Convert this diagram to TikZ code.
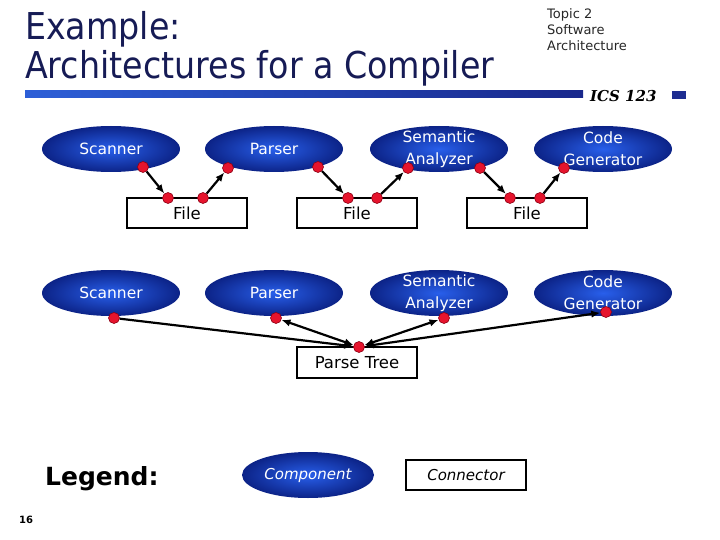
\documentclass[tikz,border=0pt]{standalone}
\usepackage{fontspec}
\setmainfont{DejaVu Sans}
\newfontfamily\serifbi{DejaVu Serif}
\usetikzlibrary{arrows.meta,shapes.geometric}
\definecolor{titleblue}{RGB}{22,27,85}
\definecolor{ellin}{RGB}{40,95,235}
\definecolor{ellout}{RGB}{12,35,135}
\definecolor{dotred}{RGB}{230,20,45}
\definecolor{dotedge}{RGB}{140,0,20}
\definecolor{barL}{RGB}{45,95,215}
\definecolor{barR}{RGB}{25,40,140}
\definecolor{sqblue}{RGB}{30,45,145}
\begin{document}
\begin{tikzpicture}[x=1pt,y=-1pt,
  comp/.style={ellipse, minimum width=138pt, minimum height=46pt, inner sep=0pt, inner color=ellin, outer color=ellout},
  comptext/.style={text=white, font=\fontsize{15.5}{22}\selectfont, align=center, inner sep=0pt},
  connbox/.style={draw=black, line width=1.8pt, minimum width=120pt, minimum height=30pt, inner sep=0pt, font=\fontsize{16.5}{19}\selectfont},
  reddot/.style={circle, fill=dotred, draw=dotedge, line width=0.6pt, minimum size=11pt, inner sep=0pt},
  link/.style={line width=2.2pt, -{Latex[length=9pt,width=7.5pt]}},
  blink/.style={line width=2.2pt, {Latex[length=9pt,width=7.5pt]}-{Latex[length=9pt,width=7.5pt]}},
  titletext/.style={anchor=base west, inner sep=0pt, text=titleblue, font=\fontsize{37}{40}\selectfont},
  toptext/.style={anchor=base west, inner sep=0pt, text=black!85, font=\fontsize{13}{16}\selectfont}
]
\useasboundingbox (0,0) rectangle (720,540);

% header
\node[titletext] (t1) at (25,40) {\scalebox{0.9}[1]{Example:}};
\node[titletext] (t2) at (25,79) {\scalebox{0.9}[1]{Architectures for a Compiler}};
\node[toptext] (tr1) at (547,19) {Topic 2};
\node[toptext] (tr2) at (547,35) {Software};
\node[toptext] (tr3) at (547,51) {Architecture};
\shade[left color=barL, right color=barR] (25,91) rectangle (583,98);
\node[anchor=west, inner sep=0pt, font=\serifbi\bfseries\itshape\fontsize{15}{18}\selectfont] (ics) at (590,96) {ICS 123};
\fill[sqblue] (672,91) rectangle (686,99);

% row 1
\node[comp] (scan1) at (111,149) {};
\node[comp] (pars1) at (274,149) {};
\node[comp] (sem1) at (439,149) {};
\node[comp] (code1) at (603,149) {};
\node[comptext] (scan1t) at (scan1) {Scanner};
\node[comptext] (pars1t) at (pars1) {Parser};
\node[comptext] (sem1t) at (sem1) {Semantic\\Analyzer};
\node[comptext] (code1t) at (code1) {Code\\Generator};
\node[connbox] (file1) at (187,213) {File};
\node[connbox] (file2) at (357,213) {File};
\node[connbox] (file3) at (527,213) {File};

\node[reddot] (s1d) at (143,167) {};
\node[reddot] (f1a) at (168,198) {};
\node[reddot] (f1b) at (203,198) {};
\node[reddot] (p1a) at (228,168) {};
\node[reddot] (p1b) at (318,167) {};
\node[reddot] (f2a) at (348,198) {};
\node[reddot] (f2b) at (377,198) {};
\node[reddot] (sa1a) at (408,168) {};
\node[reddot] (sa1b) at (480,168) {};
\node[reddot] (f3a) at (510,198) {};
\node[reddot] (f3b) at (540,198) {};
\node[reddot] (cg1) at (564,168) {};

\draw[link] (s1d) -- (f1a);
\draw[link] (f1b) -- (p1a);
\draw[link] (p1b) -- (f2a);
\draw[link] (f2b) -- (sa1a);
\draw[link] (sa1b) -- (f3a);
\draw[link] (f3b) -- (cg1);

% row 2
\node[comp] (scan2) at (111,293) {};
\node[comp] (pars2) at (274,293) {};
\node[comp] (sem2) at (439,293) {};
\node[comp] (code2) at (603,293) {};
\node[comptext] (scan2t) at (scan2) {Scanner};
\node[comptext] (pars2t) at (pars2) {Parser};
\node[comptext] (sem2t) at (sem2) {Semantic\\Analyzer};
\node[comptext] (code2t) at (code2) {Code\\Generator};
\node[connbox, minimum height=31pt] (ptree) at (357,362.5) {Parse Tree};

\node[reddot] (s2) at (114,318) {};
\node[reddot] (p2) at (276,318) {};
\node[reddot] (pt) at (359,347) {};
\node[reddot] (sa2) at (444,318) {};
\node[reddot] (cg2) at (606,312) {};

\draw[link] (s2) -- (pt);
\draw[blink] (p2) -- (pt);
\draw[blink] (sa2) -- (pt);
\draw[blink] (cg2) -- (pt);

% legend
\node[anchor=base west, inner sep=0pt, font=\bfseries\fontsize{25}{28}\selectfont] (leg) at (45,485) {Legend:};
\node[comp, minimum width=132pt] (lcomp) at (308,475) {};
\node[comptext, font=\itshape\fontsize{15}{18}\selectfont] (lcompt) at (lcomp) {Component};
\node[connbox, font=\itshape\fontsize{15}{18}\selectfont] (lconn) at (466,475) {Connector};
\node[anchor=west, inner sep=0pt, font=\bfseries\fontsize{10}{12}\selectfont] (pg) at (19,520) {16};
\end{tikzpicture}
\end{document}
